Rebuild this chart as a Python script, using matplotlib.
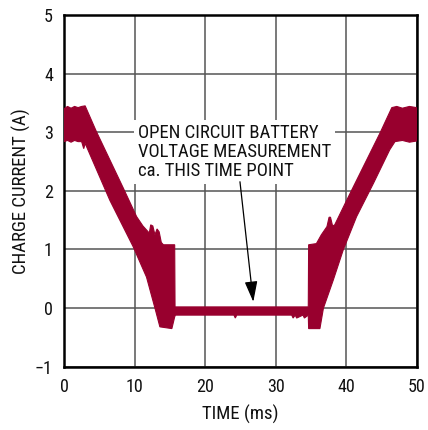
import matplotlib
matplotlib.use("Agg")
import matplotlib.pyplot as plt

# ---- data ----
upper_x = [0, 0.5, 1.0, 1.5, 2.0, 2.5, 3.0, 4.6, 6.5, 8.4, 10.3, 11.2, 12.1, 12.3, 12.6, 12.9,
           13.2, 13.5, 13.8, 14.1, 15.7, 15.75, 34.65, 34.7, 35.8, 36.5, 37.3, 37.6, 37.8, 38.1,
           38.4, 40.1, 42.45, 44.8, 46.5, 47.2, 48.0, 49.0, 50.0]
upper_y = [3.40, 3.44, 3.41, 3.44, 3.42, 3.44, 3.45, 3.01, 2.53, 2.05, 1.56, 1.40, 1.28, 1.42,
           1.40, 1.25, 1.35, 1.30, 1.12, 1.08, 1.08, 0.02, 0.02, 1.08, 1.10, 1.25, 1.39, 1.55,
           1.55, 1.40, 1.42, 1.84, 2.41, 2.98, 3.42, 3.44, 3.41, 3.44, 3.42]
lower_x = [0, 0.5, 1.0, 1.5, 2.0, 2.5, 2.8, 3.0, 6.5, 9.8, 11.7, 12.9, 13.6, 15.3, 15.7, 15.8,
           24.1, 24.3, 24.5, 32.3, 32.5, 32.8, 33.0, 33.9, 34.1, 34.65, 34.7, 36.3, 36.8, 38.2,
           39.6, 41.5, 43.9, 46.2, 46.95, 48.0, 49.0, 50.0]
lower_y = [2.84, 2.86, 2.83, 2.86, 2.84, 2.84, 2.72, 2.81, 1.84, 1.05, 0.53, 0.0, -0.32, -0.35,
           -0.15, -0.12, -0.12, -0.17, -0.12, -0.12, -0.17, -0.12, -0.17, -0.12, -0.17, -0.12,
           -0.35, -0.35, 0.0, 0.48, 0.99, 1.56, 2.13, 2.70, 2.84, 2.86, 2.83, 2.85]
x_ticks = [0, 10, 20, 30, 40, 50]
y_ticks = [-1, 0, 1, 2, 3, 4, 5]
y_tick_labels = ["\u22121", "0", "1", "2", "3", "4", "5"]
note_text = "OPEN CIRCUIT BATTERY\nVOLTAGE MEASUREMENT\nca. THIS TIME POINT"
arrow_tail = (24.96, 2.155)
arrow_tip = (26.85, 0.107)

FONT = ["Roboto Condensed", "Liberation Sans Narrow", "DejaVu Sans"]
plt.rcParams["font.family"] = FONT
band_color = "#98002E"

fig = plt.figure(figsize=(4.28, 4.30), dpi=100)
ax = fig.add_axes([64 / 428, 1 - 366.7 / 430, (416.5 - 64) / 428, (366.7 - 15) / 430])

ax.set_xlim(0, 50)
ax.set_ylim(-1, 5)
ax.set_xticks(x_ticks)
ax.set_yticks(y_ticks)
ax.set_yticklabels(y_tick_labels)
ax.tick_params(length=0, labelsize=13, colors="#111111", pad=8)
ax.grid(True, color="#555555", lw=1.1)
ax.set_axisbelow(True)
for s in ax.spines.values():
    s.set_linewidth(1.8)
    s.set_color("black")

xs = list(upper_x) + list(lower_x[::-1])
ys = list(upper_y) + list(lower_y[::-1])
ax.fill(xs, ys, color=band_color, lw=0.8, zorder=3)

ax.text(10.5, 2.66, note_text, ha="left", va="center", fontsize=13.5, linespacing=1.05,
        color="#111111", zorder=4,
        bbox=dict(facecolor="white", edgecolor="none", pad=3))
ax.annotate("", xy=arrow_tip, xytext=arrow_tail,
            arrowprops=dict(arrowstyle="-|>,head_length=0.9,head_width=0.28", color="black",
                            lw=0.9, mutation_scale=14, shrinkA=0, shrinkB=0), zorder=5)

ax.set_xlabel("TIME (ms)", fontsize=13.5, va="center", color="#111111")
ax.xaxis.set_label_coords(0.5, -0.137)
ax.set_ylabel("CHARGE CURRENT (A)", fontsize=13.5, va="center", color="#111111")
ax.yaxis.set_label_coords(-0.12, 0.5)

fig.savefig("out.png", dpi=100)
